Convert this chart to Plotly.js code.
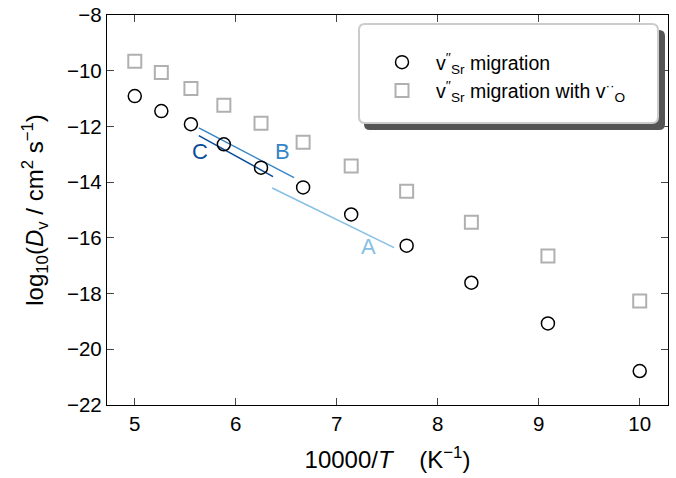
<!DOCTYPE html>
<html>
<head>
<meta charset="utf-8">
<script src="https://cdn.plot.ly/plotly-3.0.1.min.js"></script>
<style>html,body{margin:0;padding:0;background:#fff;}#chart{width:676px;height:478px;}</style>
</head>
<body>
<div id="chart"></div>
<script>
// 10000/T values (K^-1)
const invT = [5.0, 5.263, 5.556, 5.882, 6.25, 6.667, 7.143, 7.692, 8.333, 9.091, 10.0];
// log10(Dv) for V''Sr migration
const logD_Sr = [-10.91, -11.45, -11.92, -12.64, -13.48, -14.19, -15.16, -16.28, -17.61, -19.07, -20.78];
// log10(Dv) for V''Sr migration with V_O..
const logD_SrVO = [-9.66, -10.06, -10.64, -11.24, -11.89, -12.57, -13.42, -14.33, -15.44, -16.65, -18.27];
// reference lines A, B, C (endpoints in data units)
const lineA_x = [6.361, 7.567], lineA_y = [-14.21, -16.35];
const lineB_x = [5.634, 6.577], lineB_y = [-12.05, -13.84];
const lineC_x = [5.634, 6.369], lineC_y = [-12.33, -13.80];
const lineLabels = ['A', 'B', 'C'];
const labelX = [7.31, 6.46, 5.65];
const labelY = [-16.32, -12.90, -12.90];
const lineColors = ['#85bfe6', '#3484c6', '#0b4c98'];

const W = 676, H = 478;
const mL = 107, mR = 8, mT = 15, mB = 73;
const pw = W - mL - mR, ph = H - mT - mB;
const px = x => (x - mL) / pw;
const py = y => (H - mB - y) / ph;
function roundRect(x0, y0, x1, y1, r) {
  const rx = r / pw, ry = r / ph;
  const X0 = px(x0), X1 = px(x1), Yt = py(y0), Yb = py(y1);
  return `M ${X0+rx},${Yt} L ${X1-rx},${Yt} Q ${X1},${Yt} ${X1},${Yt-ry} L ${X1},${Yb+ry} Q ${X1},${Yb} ${X1-rx},${Yb} L ${X0+rx},${Yb} Q ${X0},${Yb} ${X0},${Yb+ry} L ${X0},${Yt-ry} Q ${X0},${Yt} ${X0+rx},${Yt} Z`;
}

const font = 'Liberation Sans, Arial, sans-serif';
const traces = [
  {x: lineA_x, y: lineA_y, mode: 'lines', line: {color: lineColors[0], width: 1.5}, showlegend: false, hoverinfo: 'skip'},
  {x: lineB_x, y: lineB_y, mode: 'lines', line: {color: lineColors[1], width: 1.5}, showlegend: false, hoverinfo: 'skip'},
  {x: lineC_x, y: lineC_y, mode: 'lines', line: {color: lineColors[2], width: 1.5}, showlegend: false, hoverinfo: 'skip'},
  {x: invT, y: logD_Sr, mode: 'markers', name: 'v<sup>′′</sup><sub>Sr</sub> migration',
   marker: {symbol: 'circle-open', size: 13, color: '#000', line: {width: 1.5, color: '#000'}}},
  {x: invT, y: logD_SrVO, mode: 'markers', name: 'v<sup>′′</sup><sub>Sr</sub> migration with v<sup>··</sup><sub>O</sub>',
   marker: {symbol: 'square-open', size: 13, color: '#b0b0b0', line: {width: 2, color: '#b0b0b0'}}}
];

const annotations = lineLabels.map((t, i) => ({
  x: labelX[i], y: labelY[i], xref: 'x', yref: 'y', text: t, showarrow: false,
  font: {family: font, size: 22, color: lineColors[i]}
}));

const layout = {
  width: W, height: H,
  margin: {l: mL, r: mR, t: mT, b: mB, pad: 0},
  paper_bgcolor: '#fff', plot_bgcolor: '#fff',
  font: {family: font, size: 20, color: '#000'},
  showlegend: true,
  xaxis: {
    range: [4.725, 10.28], tickvals: [5, 6, 7, 8, 9, 10], ticks: 'inside', ticklen: 7, tickwidth: 1.2,
    showline: true, linewidth: 1.2, linecolor: '#000', mirror: 'ticks', showgrid: false, zeroline: false,
    tickfont: {size: 20.5},
    title: {text: '10000/<i>T</i>    (K<sup>−1</sup>)', font: {size: 24}, standoff: 17}
  },
  yaxis: {
    range: [-22, -8], tickvals: [-22, -20, -18, -16, -14, -12, -10, -8], ticks: 'inside', ticklen: 7, tickwidth: 1.2,
    showline: true, linewidth: 1.2, linecolor: '#000', mirror: 'ticks', showgrid: false, zeroline: false,
    tickfont: {size: 20.5},
    title: {text: 'log<sub>10</sub>(<i>D</i><sub>v</sub> / cm<sup>2</sup> s<sup>−1</sup>)', font: {size: 24}, standoff: 16}
  },
  legend: {
    x: px(368), y: py(43), xanchor: 'left', yanchor: 'top',
    bgcolor: 'rgba(0,0,0,0)', borderwidth: 0, font: {size: 19.5},
    itemwidth: 58, tracegroupgap: 0
  },
  shapes: [
    {type: 'path', xref: 'paper', yref: 'paper', path: roundRect(364, 30, 665, 130, 6), fillcolor: '#555', line: {width: 0}, layer: 'above'},
    {type: 'path', xref: 'paper', yref: 'paper', path: roundRect(359, 24, 658, 123, 6), fillcolor: '#fff', line: {width: 2, color: '#cccccc'}, layer: 'above'}
  ],
  annotations: annotations
};

Plotly.newPlot('chart', traces, layout, {displayModeBar: false, staticPlot: true});
</script>
</body>
</html>
